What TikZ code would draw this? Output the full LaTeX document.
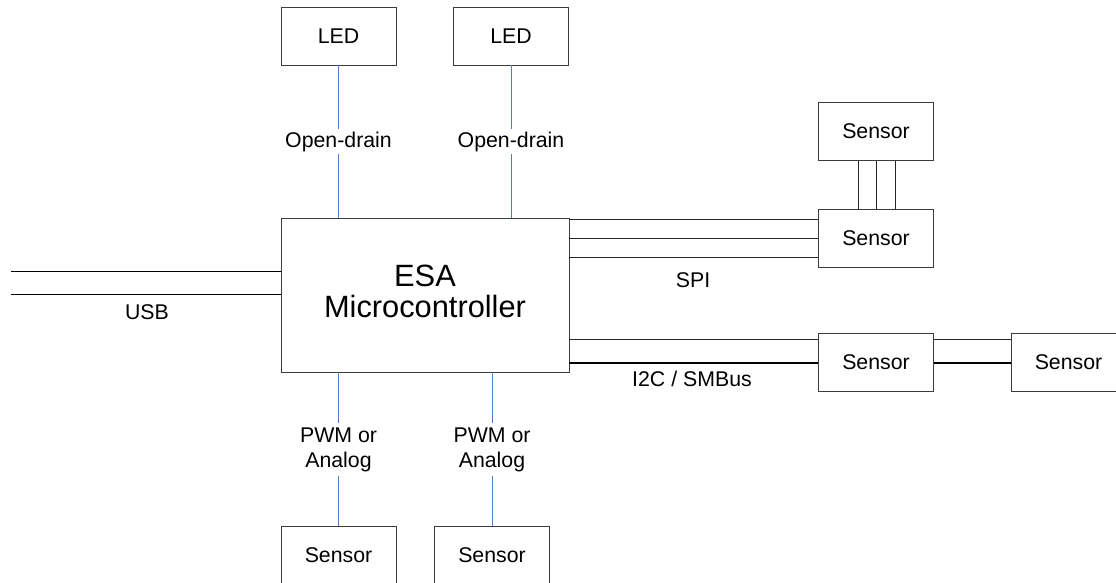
\documentclass[tikz,border=0pt]{standalone}
\usepackage{fontspec}
\setmainfont{Liberation Sans}
\usetikzlibrary{calc}
\definecolor{wireblue}{RGB}{79,129,189}
\definecolor{boxgray}{RGB}{60,60,60}
\tikzset{
  smallfont/.style={font=\fontsize{21.3}{25.6}\selectfont},
  blk/.style={draw=boxgray, line width=0.9pt, minimum width=115pt, minimum height=58pt, inner sep=0pt, smallfont},
  wire/.style={draw=black!85, line width=0.9pt},
  bluewire/.style={draw=wireblue, line width=0.9pt},
  thickwire/.style={draw=black, line width=2pt},
  lbl/.style={smallfont, fill=white, inner sep=3pt, align=center},
  plainlbl/.style={smallfont, inner sep=0pt}
}
\begin{document}
\begin{tikzpicture}[x=1pt, y=-1pt]
\clip (0,0) rectangle (1116,582);
\fill[white] (0,0) rectangle (1116,582);

% main block
\node[draw=boxgray, line width=0.9pt, minimum width=288pt, minimum height=154pt, inner sep=0pt,
      align=center, font=\fontsize{30.8}{31}\selectfont, text depth=7pt] (main) at (425,295) {ESA\\Microcontroller};

% LEDs
\node[blk] (led1) at (338.5,36) {LED};
\node[blk] (led2) at (511,36) {LED};

% SPI sensors
\node[blk] (spitop) at (876,131.5) {Sensor};
\node[blk] (spis) at (876,238) {Sensor};

% I2C sensors
\node[blk] (i2ca) at (876,362.5) {Sensor};
\node[blk] (i2cb) at (1068.5,362.5) {Sensor};

% bottom sensors
\node[blk] (bs1) at (338.5,555) {Sensor};
\node[blk] (bs2) at (492,555) {Sensor};

% LED connectors
\draw[bluewire] (led1.south) -- (led1.south |- main.north)
  node[lbl, pos=0.5] (od1) {Open-drain};
\draw[bluewire] (led2.south) -- (led2.south |- main.north)
  node[lbl, pos=0.5] (od2) {Open-drain};

% bottom connectors
\draw[bluewire] (bs1.north) -- (bs1.north |- main.south)
  node[lbl, pos=0.495, inner sep=4pt] (pw1) {PWM or\\Analog};
\draw[bluewire] (bs2.north) -- (bs2.north |- main.south)
  node[lbl, pos=0.495, inner sep=4pt] (pw2) {PWM or\\Analog};

% USB
\coordinate (usbA) at (11,271);
\coordinate (usbB) at (11,294);
\draw[draw=black, line width=0.9pt] (usbA) -- (usbA -| main.west);
\draw[draw=black, line width=0.9pt] (usbB) -- (usbB -| main.west);
\node[plainlbl] (usb) at (147,312) {USB};

% SPI
\coordinate (s1) at ($(spis.west)+(0,-19)$);
\coordinate (s2) at (spis.west);
\coordinate (s3) at ($(spis.west)+(0,19)$);
\draw[wire] (s1 -| main.east) -- (s1);
\draw[wire] (s2 -| main.east) -- (s2);
\draw[wire] (s3 -| main.east) -- (s3);
\node[plainlbl] (spi) at (693,280) {SPI};

% SPI sensor chain
\coordinate (v1) at ($(spitop.south)+(-18,0)$);
\coordinate (v2) at (spitop.south);
\coordinate (v3) at ($(spitop.south)+(19,0)$);
\draw[wire] (v1) -- (v1 |- spis.north);
\draw[wire] (v2) -- (v2 |- spis.north);
\draw[wire] (v3) -- (v3 |- spis.north);

% I2C
\coordinate (i1) at ($(i2ca.west)+(0,-23.5)$);
\draw[wire] (i1 -| main.east) -- (i1);
\draw[thickwire] (i2ca.west -| main.east) -- (i2ca.west);
\node[plainlbl] (i2c) at (692,379) {I2C / SMBus};
\coordinate (i2) at ($(i2ca.east)+(0,-23.5)$);
\draw[wire] (i2) -- (i2 -| i2cb.west);
\draw[thickwire] (i2ca.east) -- (i2cb.west);
\end{tikzpicture}
\end{document}
